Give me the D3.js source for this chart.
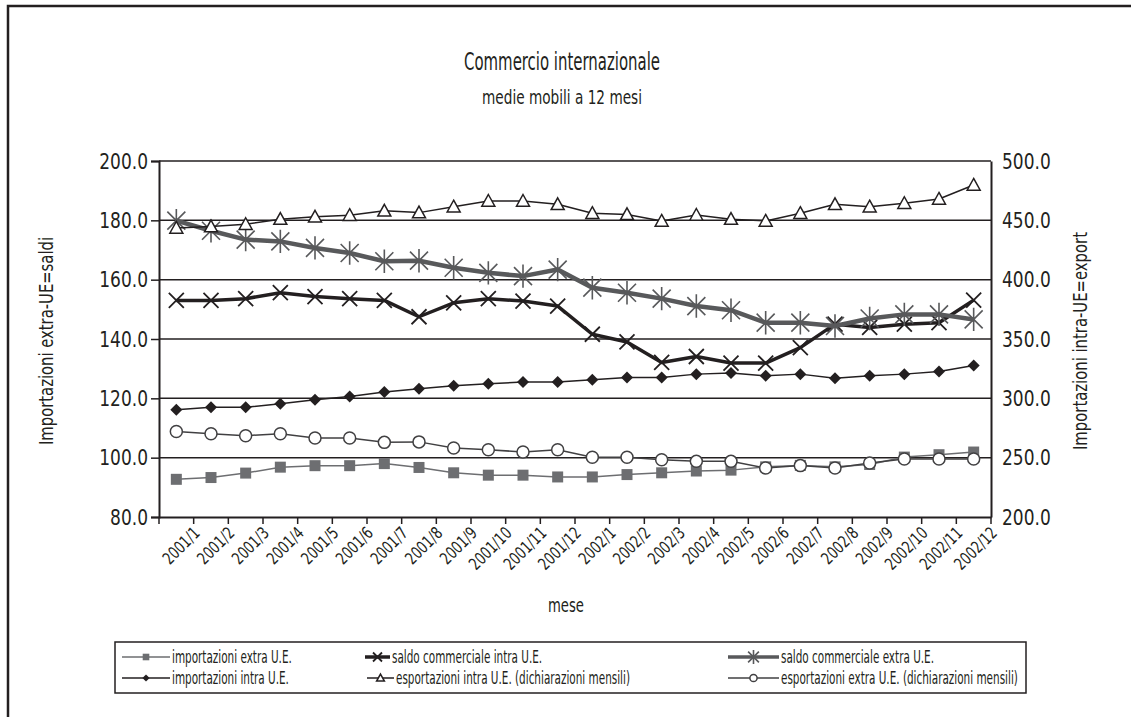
<!DOCTYPE html>
<html>
<head>
<meta charset="utf-8">
<script src="https://cdn.jsdelivr.net/npm/d3@7"></script>
<style>
  body { margin: 0; background: #fff; }
  svg text { font-family: "DejaVu Sans Condensed", "Liberation Sans Narrow", sans-serif; fill: #231f20; }
</style>
</head>
<body>
<div id="chart"></div>
<script>
'use strict';
var months = ["2001/1", "2001/2", "2001/3", "2001/4", "2001/5", "2001/6", "2001/7", "2001/8",
    "2001/9", "2001/10", "2001/11", "2001/12", "2002/1", "2002/2", "2002/3", "2002/4",
    "2002/5", "2002/6", "2002/7", "2002/8", "2002/9", "2002/10", "2002/11", "2002/12"];

// left axis (importazioni extra UE e saldi)
var importExtra = [92.7, 93.3, 94.8, 96.8, 97.3, 97.3, 98.0, 96.7, 94.9, 94.1, 94.1, 93.5,
    93.5, 94.3, 94.9, 95.5, 95.8, 96.9, 97.4, 96.9, 97.7, 100.2, 101.0, 101.9];
var saldoIntra = [153.0, 153.0, 153.6, 155.6, 154.3, 153.6, 153.0, 147.5, 152.2, 153.6, 152.8, 151.1,
    141.6, 139.0, 132.1, 134.1, 131.9, 131.9, 137.1, 145.0, 143.9, 145.0, 145.5, 153.1];
var saldoExtra = [179.9, 176.5, 173.5, 172.9, 170.7, 169.0, 166.2, 166.4, 164.0, 162.3, 161.2, 163.4,
    157.3, 155.6, 153.6, 151.1, 149.7, 145.5, 145.5, 144.4, 146.9, 148.3, 148.3, 146.6];

// right axis (importazioni intra UE ed export)
var importIntra = [290.4, 292.4, 292.4, 295.5, 298.8, 301.6, 305.3, 308.0, 310.6, 312.3, 313.7, 313.7,
    315.7, 317.6, 317.6, 320.4, 321.3, 319.0, 320.4, 317.0, 319.0, 320.4, 322.7, 327.7];
var exportIntra = [443.6, 444.7, 446.7, 451.0, 453.0, 454.3, 458.0, 456.5, 461.5, 466.3, 466.3, 463.5,
    456.0, 455.0, 449.5, 454.5, 451.0, 449.5, 456.0, 463.5, 461.5, 464.4, 468.0, 479.8];
var exportExtra = [272.1, 270.2, 268.5, 270.2, 266.6, 266.6, 262.9, 263.3, 258.2, 256.7, 254.8, 256.7,
    250.3, 250.3, 248.3, 246.9, 246.9, 241.3, 243.3, 241.3, 245.5, 248.9, 248.9, 248.9];

var leftTicks = [80, 100, 120, 140, 160, 180, 200];
var rightTicks = [200, 250, 300, 350, 400, 450, 500];

var series = [
    {name: "importazioni extra U.E.", values: importExtra, axis: "left", color: "#6d6e71", width: 1.5, marker: "square", fill: "#6d6e71"},
    {name: "saldo commerciale intra U.E.", values: saldoIntra, axis: "left", color: "#231f20", width: 3.5, marker: "x", fill: "none"},
    {name: "saldo commerciale extra U.E.", values: saldoExtra, axis: "left", color: "#58595b", width: 4.5, marker: "star", fill: "none"},
    {name: "importazioni intra U.E.", values: importIntra, axis: "right", color: "#231f20", width: 1.5, marker: "diamond", fill: "#231f20"},
    {name: "esportazioni intra U.E. (dichiarazioni mensili)", values: exportIntra, axis: "right", color: "#231f20", width: 1.5, marker: "triangle", fill: "#fff"},
    {name: "esportazioni extra U.E. (dichiarazioni mensili)", values: exportExtra, axis: "right", color: "#414042", width: 1.5, marker: "circle", fill: "#fff"}
];

var W = 1131, H = 717;
var margin = {top: 161, right: 140, bottom: 200, left: 159};
var width = W - margin.left - margin.right,
    height = H - margin.top - margin.bottom;

// squeeze text horizontally to mimic the condensed face of the original
function squeeze(sel, f) {
    sel.each(function () {
        var l = this.getComputedTextLength();
        d3.select(this).attr("textLength", l * f).attr("lengthAdjust", "spacingAndGlyphs");
    });
}
function fit(sel, target) {
    sel.attr("textLength", target).attr("lengthAdjust", "spacingAndGlyphs");
}

var svg = d3.select("#chart").append("svg")
    .attr("width", W)
    .attr("height", H);

// outer frame
svg.append("path")
    .attr("d", "M8,717V6H1131")
    .attr("fill", "none")
    .attr("stroke", "#231f20")
    .attr("stroke-width", 2.5);

fit(svg.append("text").attr("x", 562).attr("y", 70)
    .attr("text-anchor", "middle").style("font-size", "24px")
    .text("Commercio internazionale"), 196);
fit(svg.append("text").attr("x", 562).attr("y", 104)
    .attr("text-anchor", "middle").style("font-size", "20px")
    .text("medie mobili a 12 mesi"), 160);

var g = svg.append("g")
    .attr("transform", "translate(" + margin.left + "," + margin.top + ")");

var x = d3.scaleBand().domain(months).range([0, width]);
var yL = d3.scaleLinear().domain([80, 200]).range([height, 0]);
var yR = d3.scaleLinear().domain([200, 500]).range([height, 0]);

// gridlines
g.append("g").selectAll("line")
    .data(leftTicks.slice(1))
    .enter().append("line")
    .attr("x1", 0).attr("x2", width)
    .attr("y1", function (d) { return yL(d); })
    .attr("y2", function (d) { return yL(d); })
    .attr("stroke", "#231f20")
    .attr("stroke-width", 1.5);

// left axis
var axL = g.append("g")
    .call(d3.axisLeft(yL).tickValues(leftTicks).tickFormat(d3.format(".1f")).tickSize(8).tickPadding(3));
// right axis
var axR = g.append("g")
    .attr("transform", "translate(" + width + ",0)")
    .call(d3.axisRight(yR).tickValues(rightTicks).tickFormat(d3.format(".1f")).tickSize(0).tickPadding(11));
// bottom axis, ticks at category boundaries
var axB = g.append("g")
    .attr("transform", "translate(0," + height + ")")
    .call(d3.axisBottom(x).tickSizeOuter(0).tickSize(0));
axB.selectAll(".tick text")
    .attr("text-anchor", "end")
    .attr("transform", "translate(" + (x.bandwidth() / 2 + 3) + ",13) rotate(-45)")
    .attr("dy", "0.35em")
    .attr("dx", 0)
    .attr("y", 0)
    .style("font-size", "17px");
axB.append("g").selectAll("line")
    .data(d3.range(months.length + 1))
    .enter().append("line")
    .attr("x1", function (i) { return i * x.step(); })
    .attr("x2", function (i) { return i * x.step(); })
    .attr("y1", 0).attr("y2", 7)
    .attr("stroke", "#231f20").attr("stroke-width", 1.5);

[axL, axR, axB].forEach(function (a) {
    a.selectAll(".domain").attr("stroke", "#231f20").attr("stroke-width", 2);
    a.selectAll(".tick line").attr("stroke", "#231f20").attr("stroke-width", 1.5);
});
axL.selectAll(".tick text").style("font-size", "22px");
axR.selectAll(".tick text").style("font-size", "22px");
squeeze(axL.selectAll(".tick text"), 0.86);
squeeze(axR.selectAll(".tick text"), 0.86);
squeeze(axB.selectAll(".tick text"), 0.82);

fit(svg.append("text")
    .attr("transform", "translate(53,341) rotate(-90)")
    .attr("text-anchor", "middle").style("font-size", "20px")
    .text("Importazioni extra-UE=saldi"), 208);
fit(svg.append("text")
    .attr("transform", "translate(1087,341) rotate(-90)")
    .attr("text-anchor", "middle").style("font-size", "20px")
    .text("Importazioni intra-UE=export"), 218);
fit(svg.append("text").attr("x", 566).attr("y", 612)
    .attr("text-anchor", "middle").style("font-size", "20px")
    .text("mese"), 36);

// markers
function markerPath(type, s) {
    var h = s / 2;
    switch (type) {
        case "square": return "M" + -h + "," + -h + "H" + h + "V" + h + "H" + -h + "Z";
        case "diamond": return "M0," + -h + "L" + h + ",0L0," + h + "L" + -h + ",0Z";
        case "triangle": return "M0," + (-h) + "L" + h + "," + (h * 0.8) + "L" + -h + "," + (h * 0.8) + "Z";
        case "x": return "M" + -h + "," + -h + "L" + h + "," + h + "M" + h + "," + -h + "L" + -h + "," + h;
        case "star": return "M" + -h + "," + -h + "L" + h + "," + h + "M" + h + "," + -h + "L" + -h + "," + h +
            "M0," + (-h * 1.3) + "V" + (h * 1.3);
        case "circle": return d3.symbol(d3.symbolCircle, Math.PI * h * h)();
    }
}
var markerSize = {square: 11, diamond: 12, triangle: 13, x: 15, star: 18, circle: 12};
var markerStroke = {square: 0, diamond: 0, triangle: 1.5, x: 1.8, star: 1.6, circle: 1.5};

series.forEach(function (s) {
    var y = s.axis === "left" ? yL : yR;
    var line = d3.line()
        .x(function (d, i) { return x(months[i]) + x.bandwidth() / 2; })
        .y(function (d) { return y(d); });
    var sg = g.append("g");
    sg.append("path")
        .datum(s.values)
        .attr("d", line)
        .attr("fill", "none")
        .attr("stroke", s.color)
        .attr("stroke-width", s.width)
        .attr("stroke-linejoin", "round");
    sg.selectAll("path.mk")
        .data(s.values)
        .enter().append("path")
        .attr("class", "mk")
        .attr("transform", function (d, i) {
            return "translate(" + (x(months[i]) + x.bandwidth() / 2) + "," + y(d) + ")";
        })
        .attr("d", markerPath(s.marker, markerSize[s.marker]))
        .attr("fill", s.fill)
        .attr("stroke", s.color)
        .attr("stroke-width", markerStroke[s.marker] || 0);
});

// legend
var lg = svg.append("g");
lg.append("rect")
    .attr("x", 115).attr("y", 642).attr("width", 911).attr("height", 51)
    .attr("fill", "#fff").attr("stroke", "#231f20").attr("stroke-width", 1.5);
var legendPos = [
    {x: 122, y: 657, len: 48}, {x: 365, y: 657, len: 25}, {x: 728, y: 657, len: 51},
    {x: 122, y: 678, len: 48}, {x: 367, y: 678, len: 27}, {x: 728, y: 678, len: 51}
];
var legendTexts = [];
series.forEach(function (s, k) {
    var p = legendPos[k];
    var item = lg.append("g").attr("transform", "translate(" + p.x + "," + p.y + ")");
    item.append("line").attr("x1", 0).attr("x2", p.len).attr("y1", 0).attr("y2", 0)
        .attr("stroke", s.color).attr("stroke-width", Math.min(s.width, 3.5));
    item.append("path")
        .attr("transform", "translate(" + (p.len / 2) + ",0)")
        .attr("d", markerPath(s.marker, markerSize[s.marker] * 0.6))
        .attr("fill", s.fill)
        .attr("stroke", s.color)
        .attr("stroke-width", markerStroke[s.marker] || 0);
    legendTexts.push(item.append("text").attr("x", p.len + 2).attr("y", 6)
        .style("font-size", "17px")
        .text(s.name).node());
});
squeeze(d3.selectAll(legendTexts), 153 / legendTexts[2].getComputedTextLength());
</script>
</body>
</html>
